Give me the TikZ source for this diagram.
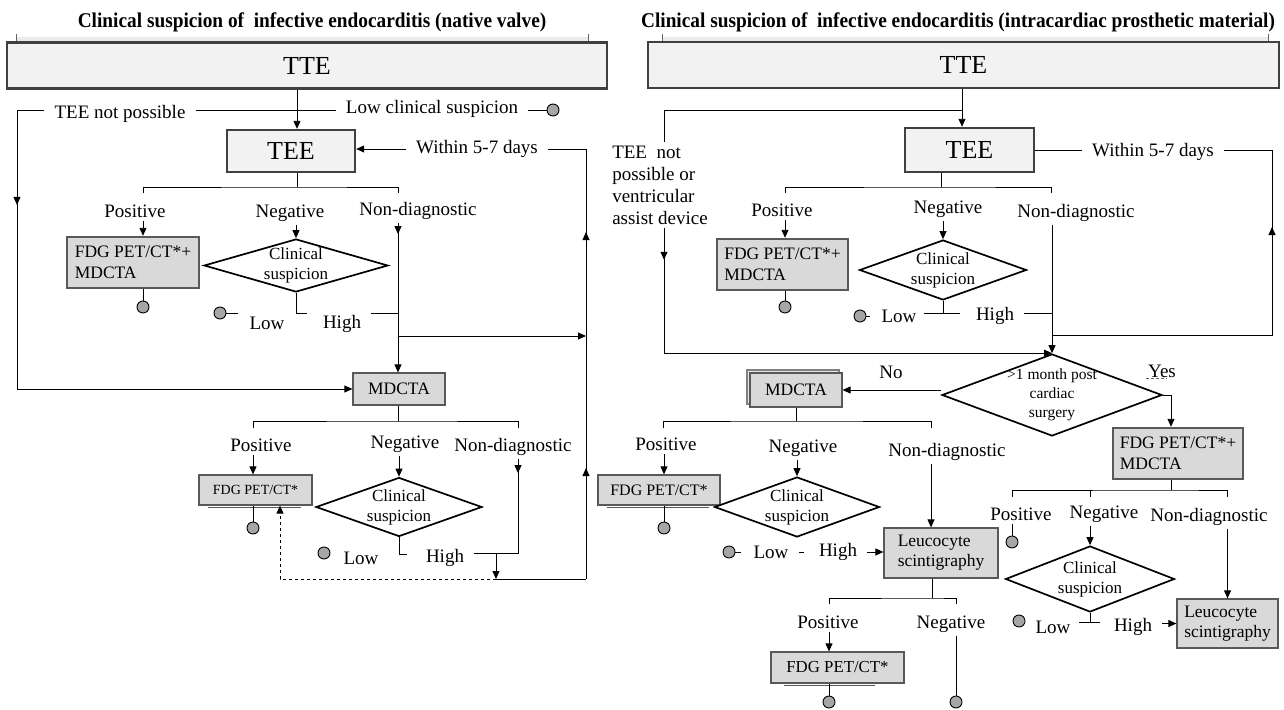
\documentclass[tikz,border=0pt]{standalone}
\usepackage{fontspec}
\setmainfont{Liberation Serif}
\newfontfamily\titlefont{Liberation Serif}[FakeStretch=0.92]
\usetikzlibrary{shapes.geometric,arrows.meta,positioning,calc,decorations.markings,shadows}

\tikzset{
  marrow/.style={postaction={decorate,decoration={markings,
      mark=at position #1 with {\arrow{Triangle[length=8pt,width=7pt]}}}}},
  lab/.style={font=\fontsize{19}{22}\selectfont, inner xsep=10pt, inner ysep=3pt},
  ttl/.style={font=\titlefont\bfseries\fontsize{21}{25}\selectfont, inner sep=0pt},
  bigbox/.style={draw=black!75, line width=2.4pt, fill=black!5, font=\fontsize{26}{30}\selectfont},
  fdgbox/.style={draw=black!65, line width=2.4pt, fill=black!15, align=left,
      font=\fontsize{17.5}{21}\selectfont, inner sep=2pt},
  box/.style={draw=black!65, line width=1.2pt, fill=black!15, font=\fontsize{17.5}{20}\selectfont, inner sep=2pt},
  decision/.style={diamond, draw, line width=1.7pt, fill=white, inner sep=0pt},
  dtext/.style={align=center, font=\fontsize{17}{20}\selectfont, inner sep=0pt},
  dot/.style={circle, draw, line width=0.9pt, fill=black!35, minimum size=12pt, inner sep=0pt}
}

\begin{document}
\begin{tikzpicture}[x=1pt, y=-1pt, line width=0.9pt, >={Triangle[length=8pt,width=7pt]}]
    \useasboundingbox (0,0) rectangle (1284,709);

    % Native valve
    \node[ttl] (titL) at (312,22) {Clinical suspicion of\ \ infective endocarditis (native valve)};
    \fill[black!8] (16,37) rectangle (588,43);
    \draw[black!60] (16,34) -- (16,43) (588,34) -- (588,43);
    \node[bigbox, minimum width=600, minimum height=46] (tteL) at (307,65.5) {TTE};
    \node[lab] (tnpL) at (120,114) {TEE not possible};
    \node[lab] (lcsL) at (432,109) {Low clinical suspicion};
    \node[dot] (dotL0) at (553,110) {};
    \node[bigbox, minimum width=128, minimum height=42] (teeL) at (291,151) {TEE};
    \node[lab] (wdL) at (477,149) {Within 5-7 days};
    \coordinate (cornL) at (17,110);
    \coordinate (loopRt) at (586,149);
    \coordinate (loopB) at (586,579);
    \coordinate (brL1) at (297,187);

    \draw[->] (tteL.south -| brL1) -- (teeL.north -| brL1);
    \draw (tnpL.east |- cornL) -- (lcsL.west |- cornL);
    \draw (lcsL.east |- dotL0) -- (dotL0.west);
    \draw[->] (wdL.west) -- (wdL.west -| teeL.east);
    \draw[marrow=111pt, marrow=347pt] (loopB) -- (loopRt) -- (wdL.east |- loopRt);

    \node[lab] (posL1) at (135,211) {Positive};
    \node[lab] (negL1) at (290,213) {Negative};
    \node[lab] (ndL1) at (418,211) {Non-diagnostic};
    \draw (teeL.south -| brL1) -- (brL1);
    \draw (143,193) |- (brL1) -| (398,193);

    \node[fdgbox, minimum width=132, minimum height=51] (fdgL1) at (133,262.5) {FDG PET/CT*+\\MDCTA};
    \node[dot] (dotL1) at (143,307) {};
    \node[decision, minimum width=184, minimum height=53,
      label={[dtext]center:Clinical\\suspicion}] (dmL1) at (296,265.5) {};
    \node[dot] (dotL2) at (220,313) {};
    \node[lab] (lowL1) at (267,323) {Low};
    \node[lab] (highL1) at (342,324) {High};
    \node[box, minimum width=92, minimum height=32] (mdL) at (399,389) {MDCTA};
    \coordinate (jnL1) at (398,336);

    \draw[marrow=122pt, ->] (tnpL.west |- cornL) -- (cornL) |- (mdL.west);
    \draw[->] (posL1.south -| dotL1) -- (fdgL1.north -| dotL1);
    \draw (fdgL1.south -| dotL1) -- (dotL1.north);
    \draw[->] (negL1.south -| dmL1.north) -- (dmL1.north);
    \draw[marrow=11pt, ->] (ndL1.south -| jnL1) -- (mdL.north -| jnL1);
    \draw (dmL1.south) -- ++(0,21) -- ++(11,0);
    \draw (dotL2.east) -- ++(12,0);
    \draw (highL1.east |- dotL2) -- (dotL2 -| jnL1);
    \draw[->] (jnL1) -- (jnL1 -| loopB);

    \node[lab] (posL2) at (261,445) {Positive};
    \node[lab] (negL2) at (405,444) {Negative};
    \node[lab] (ndL2) at (513,447) {Non-diagnostic};
    \coordinate (brL2) at (398,421);
    \draw (mdL.south -| brL2) -- (brL2);
    \draw (253,428) |- (brL2) -| (518,428);

    \node[box, font=\fontsize{14}{16}\selectfont, minimum width=113, minimum height=30] (fdgL2) at (255.5,490) {FDG PET/CT*};
    \draw[black!65, line width=1.2pt] ($(fdgL2.south west)+(10,2)$) -- ($(fdgL2.south east)+(-12,2)$);
    \node[dot] (dotL3) at (253,528) {};
    \node[decision, minimum width=166, minimum height=59,
      label={[dtext]center:Clinical\\suspicion}] (dmL2) at (399,507) {};
    \node[dot] (dotL4) at (324,553) {};
    \node[lab] (lowL2) at (361,558) {Low};
    \node[lab] (highL2) at (445,558) {High};
    \coordinate (jnL) at (496,553);
    \coordinate (botL) at (496,579);

    \draw[->] (posL2.south -| dotL3) -- (fdgL2.north -| dotL3);
    \draw (fdgL2.south -| dotL3) -- (dotL3.north);
    \draw[->] (negL2.south -| dmL2.north) -- (dmL2.north);
    \draw[marrow=14pt] (ndL2.south -| 518,0) |- (jnL);
    \draw (dmL2.south) -- ++(0,17) -- ++(8,0);
    \draw (highL2.east |- jnL) -- (jnL);
    \draw[->] (jnL) -- (botL);
    \draw (botL) -- (loopB);
    \draw[dashed, ->] (botL) -| ([xshift=24.5]fdgL2.south);

    % Intracardiac prosthetic material
    \node[ttl] (titR) at (958,22) {Clinical suspicion of\ \ infective endocarditis (intracardiac prosthetic material)};
    \fill[black!8] (662,37) rectangle (1268,43);
    \draw[black!60] (662,34) -- (662,43) (1268,34) -- (1268,43);
    \node[bigbox, minimum width=631, minimum height=46] (tteR) at (963.5,65) {TTE};
    \node[bigbox, minimum width=129, minimum height=44] (teeR) at (969.5,150) {TEE};
    \node[lab, align=left, font=\fontsize{19}{22}\selectfont] (tnpR) at (660,185) {TEE\ \ not\\possible or\\ventricular\\assist device};
    \node[lab] (wdR) at (1153,152) {Within 5-7 days};
    \coordinate (jnR0) at (962,110);
    \coordinate (cornR) at (664,110);
    \coordinate (loopRt2) at (1272,150);
    \coordinate (loopRb2) at (1272,335);

    \draw[->] (jnR0 |- tteR.south) -- (jnR0 |- teeR.north);
    \draw (jnR0) -- (cornR) -- (cornR |- tnpR.north);
    \draw (teeR.east) -- (teeR.east -| wdR.west);

    \node[lab] (posR1) at (782,210) {Positive};
    \node[lab] (negR1) at (948,209) {Negative};
    \node[lab] (ndR1) at (1076,213) {Non-diagnostic};
    \coordinate (brR1) at (941,187);
    \draw (teeR.south -| brR1) -- (brR1);
    \draw (785,193) |- (brR1) -| (1051,193);

    \node[fdgbox, minimum width=131, minimum height=51] (fdgR1) at (782.5,264.5) {FDG PET/CT*+\\MDCTA};
    \node[dot] (dotR1) at (785,307) {};
    \node[decision, minimum width=167, minimum height=60,
      label={[dtext]center:Clinical\\suspicion}] (dmR1) at (943,270) {};
    \node[dot] (dotR2) at (860,316) {};
    \node[lab] (lowR1) at (899,316) {Low};
    \node[lab] (highR1) at (995,316) {High};
    \node[decision, minimum width=220, minimum height=82,
      label={[dtext, font=\fontsize{15.5}{19}\selectfont]center:{>1 month post\\cardiac\\surgery}}] (dmR0) at (1052,395) {};

    \draw[marrow=32pt, ->] (tnpR.south -| cornR) |- (dmR0.north);
    \draw[marrow=328pt] (dmR0.north |- loopRb2) -- (loopRb2) -- (loopRt2) -- (wdR.east |- loopRt2);
    \draw[->] (posR1.south -| dotR1) -- (fdgR1.north -| dotR1);
    \draw (fdgR1.south -| dotR1) -- (dotR1.north);
    \draw[->] (negR1.south -| dmR1.north) -- (dmR1.north);
    \draw[->] (ndR1.south -| dmR0.north) -- (dmR0.north);
    \draw (dmR1.south) -- ++(0,13) coordinate (tR1);
    \draw ([xshift=-19]tR1) -- ([xshift=17]tR1);
    \draw (dotR2.east) -- ++(4,0);
    \draw (highR1.east |- tR1) -- (tR1 -| dmR0.north);

    \node[lab] (noR) at (891,372) {No};
    \node[box, minimum width=92, minimum height=34,
      copy shadow={shadow xshift=-3pt, shadow yshift=3pt, draw=black!50, fill=black!10}] (mdR) at (796,390) {MDCTA};
    \node[lab] (yesR) at (1162,371) {Yes};
    \node[fdgbox, minimum width=130, minimum height=51] (fdgR2) at (1178,453.5) {FDG PET/CT*+\\MDCTA};
    \draw[->] (dmR0.west |- mdR.east) -- (mdR.east);
    \draw[->] (dmR0.east) -| ([xshift=-7]fdgR2.north);
    \draw[black!60, line width=0.6pt, dash pattern=on 3pt off 2pt] ($(yesR.south)+(-16,-2)$) -- ($(yesR.south)+(5,-2)$);

    \node[lab] (posR2) at (666,444) {Positive};
    \node[lab] (negR2) at (803,448) {Negative};
    \node[lab] (ndR2) at (947,452) {Non-diagnostic};
    \coordinate (brR2) at (796,421);
    \draw (mdR.south) -- (brR2);
    \draw (663,428) |- (brR2) -| (931,428);

    \node[box, font=\fontsize{16}{18}\selectfont, minimum width=122, minimum height=30] (fdgR3) at (659,490) {FDG PET/CT*};
    \draw[black!65, line width=1.2pt] ($(fdgR3.south west)+(10,2)$) -- ($(fdgR3.south east)+(-12,2)$);
    \node[dot] (dotR3) at (664,528) {};
    \node[decision, minimum width=165, minimum height=60,
      label={[dtext]center:Clinical\\suspicion}] (dmR2) at (797,507) {};
    \node[dot] (dotR4) at (729,552) {};
    \node[lab] (lowR2) at (771,552) {Low};
    \node[lab] (highR2) at (838,552) {High};
    \node[box, minimum width=114, minimum height=50, align=left] (leuR1) at (941,553) {Leucocyte\\scintigraphy};

    \draw[->] (posR2.south -| dotR3) -- (fdgR3.north -| dotR3);
    \draw (fdgR3.south -| dotR3) -- (dotR3.north);
    \draw[->] (negR2.south -| dmR2.north) -- (dmR2.north);
    \draw[->] (ndR2.south -| 931,0) -- (leuR1.north -| 931,0);
    \draw (dotR4.east) -- ++(6,0);
    \draw (lowR2.east) -- ++(5,0);
    \draw[->] (highR2.east) -- (highR2.east -| leuR1.west);

    \node[lab] (posR4) at (828,622) {Positive};
    \node[lab] (negR4) at (951,624) {Negative};
    \coordinate (brR3) at (932,598);
    \draw (leuR1.south -| brR3) -- (brR3);
    \draw (829,604) |- (brR3) -| (956,604);
    \node[box, font=\fontsize{16.8}{19}\selectfont, minimum width=133, minimum height=31] (fdgR4) at (837.5,667.5) {FDG PET/CT*};
    \draw[black!65, line width=1.2pt] ($(fdgR4.south west)+(14,2)$) -- ($(fdgR4.south east)+(-30,2)$);
    \node[dot] (dotR7) at (829,702) {};
    \node[dot] (dotR8) at (956,702) {};
    \draw[->] (posR4.south -| dotR7) -- (fdgR4.north -| dotR7);
    \draw (fdgR4.south -| dotR7) -- (dotR7.north);
    \draw (negR4.south -| dotR8) -- (dotR8.north);

    \node[lab] (posR3) at (1021,514) {Positive};
    \node[lab] (negR3) at (1104,514) {Negative};
    \node[lab] (ndR3) at (1209,517) {Non-diagnostic};
    \coordinate (brR4) at (1171,490);
    \draw (fdgR2.south -| brR4) -- (brR4);
    \draw (1012,497) |- (brR4) -| (1227,497);
    \draw (1090,490) -- (1090,497);
    \node[dot] (dotR5) at (1012,542) {};
    \draw (posR3.south -| dotR5) -- (dotR5.north);
    \node[decision, minimum width=169, minimum height=66,
      label={[dtext]center:Clinical\\suspicion}] (dmR3) at (1090,579) {};
    \node[dot] (dotR6) at (1019,621) {};
    \node[lab] (lowR3) at (1053,627) {Low};
    \node[lab] (highR3) at (1133,627) {High};
    \node[box, minimum width=101, minimum height=49, align=left] (leuR2) at (1227.5,623.5) {Leucocyte\\scintigraphy};

    \draw[->] (negR3.south -| dmR3.north) -- (dmR3.north);
    \draw (dmR3.south) -- ++(0,10) coordinate (tR3);
    \draw ([xshift=-11]tR3) -- ([xshift=10]tR3);
    \draw[->] (highR3.east |- leuR2.west) -- (leuR2.west);
    \draw[->] (ndR3.south -| leuR2.north) -- (leuR2.north);
\end{tikzpicture}
\end{document}
